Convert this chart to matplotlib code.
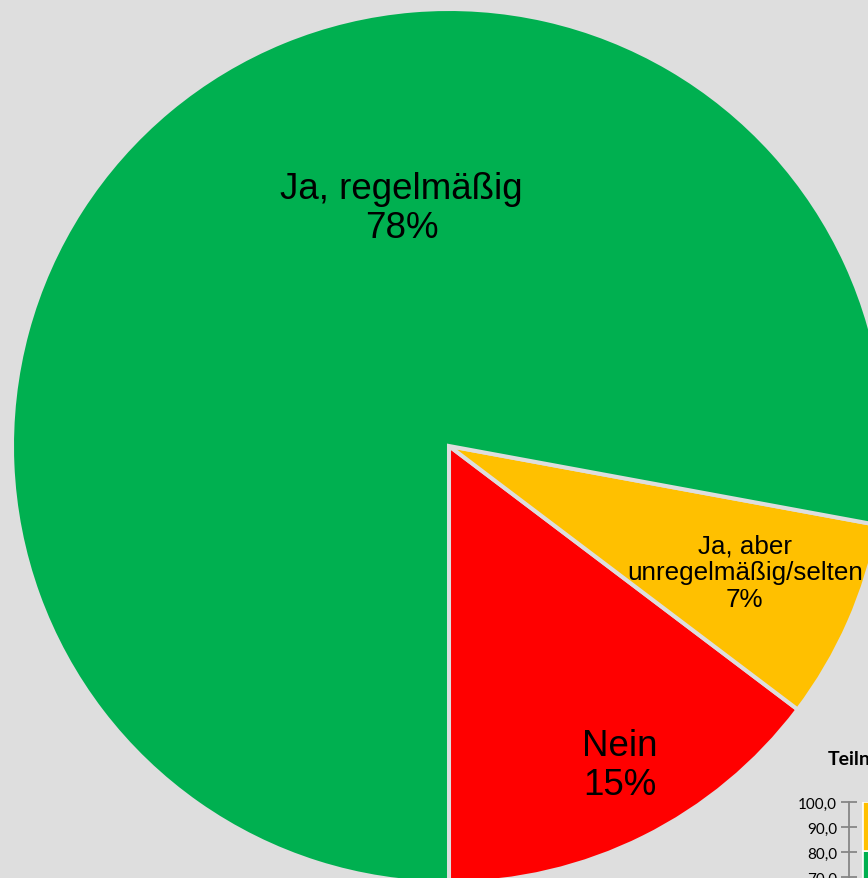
import matplotlib
matplotlib.use("Agg")
from matplotlib import pyplot as plt

# pie data (counter-clockwise from 6 o'clock)
categories = ["Nein", "Ja, aber\nunregelmäßig/selten", "Ja, regelmäßig"]
shares = [14.7, 7.4, 77.9]
colors = ["#FF0000", "#FFC000", "#00B050"]

# partly visible second chart in the corner
inset_title = "Teilnahme"
inset_ticks = [70, 80, 90, 100]
inset_tick_labels = ["70,0", "80,0", "90,0", "100,0"]
inset_green = [80.5]
inset_yellow = [19.5]

bg = "#DEDEDE"
plt.rcParams["font.family"] = ["Liberation Sans", "DejaVu Sans"]

W, H = 868, 879
fig = plt.figure(figsize=(W / 100, H / 100), dpi=100, facecolor=bg)

# pie axes: centre at (449, 447) px from top-left, radius 437 px
cx, cy, r = 449, 447, 437
ax = fig.add_axes([(cx - r) / W, (H - cy - r) / H, 2 * r / W, 2 * r / H])
ax.set_facecolor(bg)
wedges, _ = ax.pie(shares, colors=colors, startangle=-90, counterclock=True,
                   radius=1, wedgeprops=dict(edgecolor=bg, linewidth=2.9))
ax.set_xlim(-1, 1)
ax.set_ylim(-1, 1)
ax.set_aspect("equal")
ax.axis("off")

total = sum(shares)
label_pos = [(0.391, -0.730), (0.677, -0.288), (-0.108, 0.545)]
label_size = [26.5, 18.7, 26.5]
for name, v, (x, y), fs in zip(categories, shares, label_pos, label_size):
    ax.text(x, y, f"{name}\n{round(v / total * 100):.0f}%", ha="center", va="center",
            fontsize=fs, color="black", linespacing=1.15)

# corner inset (cut off by the figure edge)
ix = fig.add_axes([849 / W, (H - 903) / H, 0.12, 100 / H])
ix.patch.set_alpha(0)
ix.bar([0.8], inset_green, width=0.8, color="#00B050", edgecolor="white", linewidth=1.2)
ix.bar([0.8], inset_yellow, bottom=inset_green, width=0.8, color="#FFC000",
       edgecolor="white", linewidth=1.2)
ix.set_xlim(0, 3)
ix.set_ylim(60, 100)
ix.set_yticks(inset_ticks)
ix.set_yticklabels(inset_tick_labels, fontsize=11, family=["Lato", "DejaVu Sans"])
ix.tick_params(axis="y", direction="inout", length=11, width=1.3, color="#868686", pad=3)
ix.set_xticks([])
for s in ["top", "right", "bottom"]:
    ix.spines[s].set_visible(False)
ix.spines["left"].set_color("#868686")
ix.spines["left"].set_linewidth(1.3)
fig.text(828 / W, (H - 760) / H, inset_title, fontsize=14, fontweight="bold",
         family=["Lato", "DejaVu Sans"], va="center", ha="left")

fig.savefig("out.png", dpi=100, facecolor=bg)
